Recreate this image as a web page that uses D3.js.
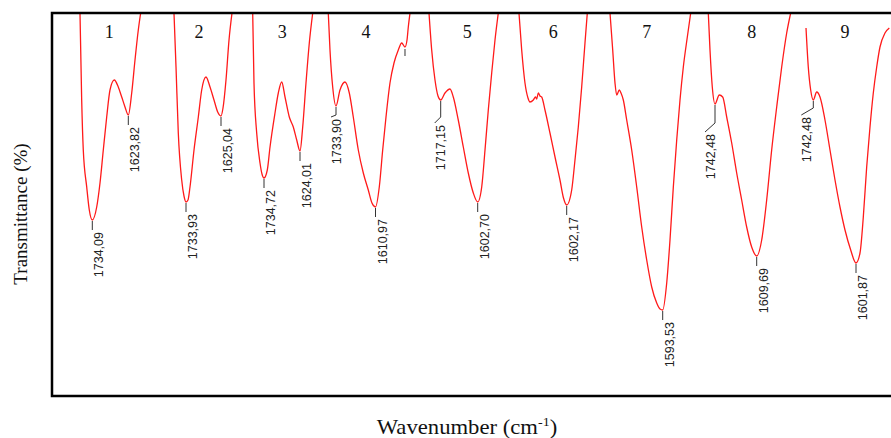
<!DOCTYPE html>
<html>
<head>
<meta charset="utf-8">
<script src="https://cdn.jsdelivr.net/npm/d3@7"></script>
<style>
  html, body { margin: 0; padding: 0; background: #fff; }
  svg { display: block; }
</style>
</head>
<body>
<svg id="chart" width="891" height="438"></svg>
<script>
// ---------- DATA ----------
const samples = ["1", "2", "3", "4", "5", "6", "7", "8", "9"];

// Spectra: [wavenumber (cm-1), transmittance (a.u. %)]
const spectrum1 = [[1771.8,76.6],[1766.6,59.2],[1761.7,49.2],[1751.2,41.8],[1743.3,37.2],[1734.1,35.2],[1720.6,37.8],[1710.5,42.6],[1700.4,49.2],[1690.0,55.8],[1679.9,61.2],[1666.7,63.2],[1654.5,61.8],[1644.0,59.8],[1633.9,57.8],[1623.8,56.2],[1613.4,60.6],[1603.3,67.2],[1593.2,73.2],[1585.9,76.6]];
const spectrum2 = [[1771.3,76.6],[1765.0,65.8],[1757.9,52.6],[1747.3,43.2],[1740.2,40.0],[1733.9,38.8],[1727.7,39.2],[1721.5,41.8],[1709.0,49.2],[1695.6,55.8],[1685.1,61.2],[1671.7,63.8],[1659.2,61.8],[1646.8,59.2],[1635.3,56.8],[1625.0,56.0],[1618.8,57.6],[1609.5,63.2],[1600.1,71.2],[1590.8,76.6]];
const spectrum3 = [[1769.5,76.6],[1765.5,62.6],[1757.2,52.6],[1747.0,46.6],[1740.9,44.4],[1734.7,43.6],[1724.6,45.2],[1716.2,49.8],[1700.9,56.6],[1690.7,60.6],[1680.3,62.8],[1670.1,59.8],[1656.9,55.8],[1644.6,53.8],[1634.1,51.2],[1624.0,49.0],[1615.7,53.8],[1605.6,62.6],[1595.4,70.6],[1584.9,76.6]];
const spectrum4 = [[1757.9,76.6],[1752.6,69.2],[1744.2,61.8],[1733.9,58.0],[1721.5,61.2],[1705.9,62.8],[1692.5,60.6],[1680.1,55.8],[1664.5,49.2],[1648.9,44.6],[1633.4,41.2],[1621.9,38.6],[1611.0,37.8],[1599.2,41.8],[1588.6,49.2],[1578.3,55.8],[1565.9,62.6],[1553.4,66.6],[1540.0,69.2],[1529.4,70.6],[1519.2,69.8],[1512.9,71.2],[1508.9,73.8],[1503.6,76.6]];
const spectrum5 = [[1753.3,76.6],[1745.0,69.2],[1734.8,63.2],[1725.5,60.0],[1717.2,59.2],[1703.9,60.6],[1688.4,61.4],[1678.2,59.8],[1662.8,55.2],[1647.2,49.8],[1631.8,44.6],[1616.3,40.6],[1602.7,38.8],[1590.3,41.8],[1580.1,49.2],[1569.9,57.2],[1559.4,64.6],[1549.2,71.2],[1539.0,76.6]];
const spectrum6 = [[1750.1,76.6],[1741.7,69.2],[1731.5,62.6],[1722.2,59.6],[1716.0,58.8],[1705.7,59.2],[1698.9,59.8],[1695.2,59.4],[1690.2,60.6],[1685.0,60.0],[1679.7,59.8],[1669.5,57.2],[1654.0,52.6],[1638.4,47.8],[1623.0,43.2],[1612.1,39.6],[1602.2,38.2],[1586.7,41.2],[1576.5,47.2],[1566.2,53.8],[1555.7,61.8],[1545.5,70.6],[1538.3,76.6]];
const spectrum7 = [[1756.9,76.6],[1748.5,69.2],[1741.4,62.6],[1736.1,60.2],[1728.0,61.2],[1722.8,60.6],[1715.6,59.2],[1705.1,55.2],[1689.6,49.2],[1674.1,41.8],[1658.6,33.8],[1643.1,27.2],[1627.6,21.8],[1612.1,18.6],[1601.9,17.4],[1593.5,17.2],[1581.1,22.6],[1570.9,31.2],[1560.6,41.8],[1550.1,51.2],[1539.9,59.2],[1529.6,65.8],[1517.2,71.8],[1506.7,76.6]];
const spectrum8 = [[1763.8,76.6],[1758.4,69.2],[1751.1,61.8],[1742.5,58.4],[1728.8,60.2],[1718.0,59.8],[1705.2,55.8],[1689.3,50.6],[1673.4,44.6],[1657.5,39.2],[1641.6,33.8],[1625.7,29.8],[1609.7,28.0],[1593.8,31.2],[1577.9,39.2],[1562.0,49.2],[1546.0,57.8],[1530.1,65.8],[1514.2,72.6],[1501.5,76.6]];
const spectrum9 = [[1766.5,73.6],[1759.0,65.8],[1751.1,61.2],[1742.5,59.2],[1731.3,60.8],[1720.4,59.8],[1704.0,55.2],[1687.5,49.2],[1671.0,43.2],[1654.6,37.8],[1638.1,33.2],[1619.3,29.2],[1601.9,26.6],[1588.7,28.6],[1577.8,35.8],[1566.7,45.8],[1555.8,53.8],[1544.9,60.6],[1533.7,65.8],[1522.9,69.8],[1506.4,72.6],[1492.2,73.6]];
const spectra = [spectrum1, spectrum2, spectrum3, spectrum4, spectrum5, spectrum6, spectrum7, spectrum8, spectrum9];

// Labelled peak wavenumbers per sample
const peakWavenumbers = [
  [1734.09, 1623.82],
  [1733.93, 1625.04],
  [1734.72, 1624.01],
  [1733.90, 1610.97],
  [1717.15, 1602.70],
  [1602.17],
  [1593.53],
  [1742.48, 1609.69],
  [1742.48, 1601.87]
];
// Unlabelled peak marks: [sample index, wavenumber]
const minorPeaks = [[3, 1519.2]];

// ---------- LAYOUT ----------
const frame = { left: 52, top: 13, right: 891, bottom: 396 };
const panelRanges = [
  [92.3, 128.3], [186, 221], [264, 300], [336, 375.5], [440.7, 477.7],
  [566.7, 666.7], [662.7, 762.7], [715, 756.7], [813.3, 856]
];
const numberX = [109.3, 199, 282.3, 366, 467.3, 553.3, 646.7, 751.7, 845];
// special label placement: key "panel-peak" -> [tickLen, dx, leaderDrop]
const labelStyle = {
  "3-0": [9, 5, 2],
  "4-0": [17, 4, 6],
  "7-0": [19, 0, 9],
  "8-0": [8, -2, 7]
};
const defaultLabel = [10, 11, 0];

const svg = d3.select("#chart");

const y = d3.scaleLinear().domain([0, 76.6]).range([frame.bottom, frame.top]);

const xScales = spectra.map((s, i) => {
  const pw = peakWavenumbers[i];
  const dom = pw.length > 1 ? [pw[0], pw[1]] : [pw[0], pw[0] - 310];
  return d3.scaleLinear().domain(dom).range(panelRanges[i]);
});

svg.append("defs").append("clipPath").attr("id", "plotclip")
  .append("rect")
  .attr("x", frame.left).attr("y", frame.top)
  .attr("width", frame.right - frame.left).attr("height", frame.bottom - frame.top);

const plot = svg.append("g").attr("clip-path", "url(#plotclip)");

const fmt = v => d3.format(".2f")(v).replace(".", ",");

spectra.forEach((s, i) => {
  const x = xScales[i];
  const line = d3.line()
    .x(d => x(d[0]))
    .y(d => y(d[1]))
    .curve(d3.curveMonotoneX);
  plot.append("path")
    .datum(s)
    .attr("d", line)
    .attr("fill", "none")
    .attr("stroke", "#ff1a1a")
    .attr("stroke-width", 1.3)
    .attr("stroke-linejoin", "round");

  peakWavenumbers[i].forEach((wn, j) => {
    const nearest = d3.least(s, d => Math.abs(d[0] - wn));
    const px = x(wn), py = y(nearest[1]);
    const [tl, dx, drop] = labelStyle[i + "-" + j] || defaultLabel;
    let d = `M${px},${py + 1}V${py + tl}`;
    if (drop > 0) d += `L${px + dx - 10},${py + tl + drop}`;
    svg.append("path").attr("d", d)
      .attr("fill", "none").attr("stroke", "#333").attr("stroke-width", 1);
    svg.append("text")
      .attr("transform", `translate(${px + dx},${py + tl + drop + 2}) rotate(-90)`)
      .attr("text-anchor", "end")
      .attr("font-family", "'Liberation Sans', Arial, sans-serif")
      .attr("font-size", 12.5)
      .attr("fill", "#222")
      .text(fmt(wn));
  });
});

minorPeaks.forEach(([i, wn]) => {
  const s = spectra[i];
  const nearest = d3.least(s, d => Math.abs(d[0] - wn));
  const px = xScales[i](wn), py = y(nearest[1]);
  svg.append("path").attr("d", `M${px},${py + 2}V${py + 9}`)
    .attr("stroke", "#333").attr("stroke-width", 1);
});

// sample numbers
svg.selectAll("text.num").data(samples).enter().append("text")
  .attr("class", "num")
  .attr("x", (d, i) => numberX[i]).attr("y", 38)
  .attr("text-anchor", "middle")
  .attr("font-family", "'Liberation Serif', 'Times New Roman', serif")
  .attr("font-size", 18)
  .attr("fill", "#111")
  .text(d => d);

// frame
svg.append("path")
  .attr("d", `M${frame.right},${frame.top}H${frame.left}V${frame.bottom}H${frame.right}`)
  .attr("fill", "none").attr("stroke", "#000").attr("stroke-width", 2.5);

// axis titles
svg.append("text")
  .attr("transform", `translate(27,214) rotate(-90)`)
  .attr("text-anchor", "middle")
  .attr("font-family", "'Liberation Serif', 'Times New Roman', serif")
  .attr("font-size", 19)
  .attr("fill", "#111")
  .text("Transmittance (%)");

const xt = svg.append("text")
  .attr("transform", "translate(467,433.5) scale(1.08,1)")
  .attr("text-anchor", "middle")
  .attr("font-family", "'Liberation Serif', 'Times New Roman', serif")
  .attr("font-size", 21)
  .attr("fill", "#111");
xt.append("tspan").text("Wavenumber (cm");
xt.append("tspan").attr("font-size", 13).attr("dy", -8).text("-1");
xt.append("tspan").attr("dy", 8).text(")");
</script>
</body>
</html>
